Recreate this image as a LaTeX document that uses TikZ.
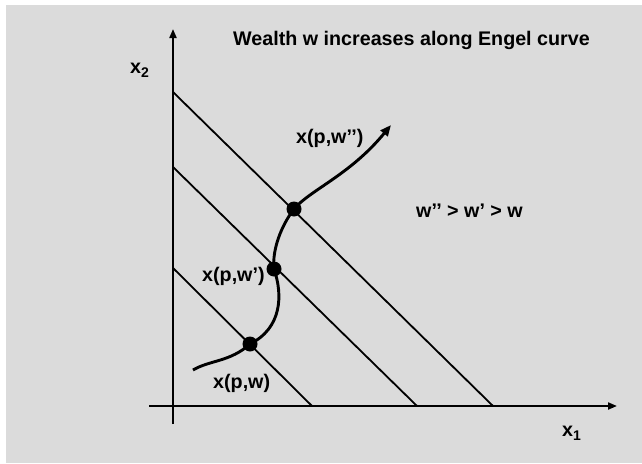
\documentclass[tikz,border=0pt]{standalone}
\usepackage{fontspec}
\setmainfont{Liberation Sans}
\usetikzlibrary{arrows.meta}
\definecolor{bggray}{RGB}{219,219,219}
\tikzset{
  lbl/.style={inner sep=0pt, anchor=base west, font=\fontsize{19.7}{22}\selectfont\bfseries},
  axis/.style={line width=2pt, -{Triangle[length=9pt,width=7pt]}},
  budget/.style={line width=1.8pt},
  engel/.style={line width=2.9pt},
  dot/.style={circle, fill=black, inner sep=0pt, minimum size=15pt}
}
\newcommand{\subtwo}[1]{\raisebox{-4.5pt}{\fontsize{14}{14}\selectfont #1}}
\begin{document}
\begin{tikzpicture}[x=1pt,y=-1pt]
  \useasboundingbox (0,0) rectangle (642,463);
  \fill[bggray] (6,5) rectangle (642,463);

  % axes
  \coordinate (xs) at (149,406);
  \coordinate (xe) at (617,406);
  \coordinate (ys) at (173,424);
  \coordinate (ye) at (173,29);
  \draw[axis] (xs) -- (xe);
  \draw[axis] (ys) -- (ye);

  % budget lines
  \coordinate (a1) at (173,268); \coordinate (b1) at (312,406);
  \coordinate (a2) at (173,167); \coordinate (b2) at (417,406);
  \coordinate (a3) at (173,92);  \coordinate (b3) at (493,406);
  \draw[budget] (a1) -- (b1);
  \draw[budget] (a2) -- (b2);
  \draw[budget] (a3) -- (b3);

  % Engel curve
  \coordinate (cs) at (193,370);
  \coordinate (ce) at (391,125);
  \coordinate (d1c) at (250,344);
  \coordinate (d2c) at (274,269);
  \coordinate (d3c) at (294,209);
  \draw[engel] (cs) .. controls (210,360) and (230,362) .. (d1c)
     .. controls (282,328) and (283,295) .. (d2c)
     .. controls (272,250) and (281,226) .. (d3c);
  \draw[engel, -{Triangle[length=11pt,width=9pt]}] (d3c) .. controls (310,190) and (350,175) .. (ce);

  \node[dot] (d1) at (d1c) {};
  \node[dot] (d2) at (d2c) {};
  \node[dot] (d3) at (d3c) {};

  % labels
  \node[lbl] (title) at (233,45) {Wealth w increases along Engel curve};
  \node[lbl] (x2) at (130,73) {x\subtwo{2}};
  \node[lbl] (x1) at (562,436) {x\subtwo{1}};
  \node[lbl] (l3) at (296,143) {x(p,w’’)};
  \node[lbl] (l2) at (202,281) {x(p,w’)};
  \node[lbl] (l1) at (213,388) {x(p,w)};
  \node[lbl] (ineq) at (416,217) {w’’ > w’ > w};
\end{tikzpicture}
\end{document}
